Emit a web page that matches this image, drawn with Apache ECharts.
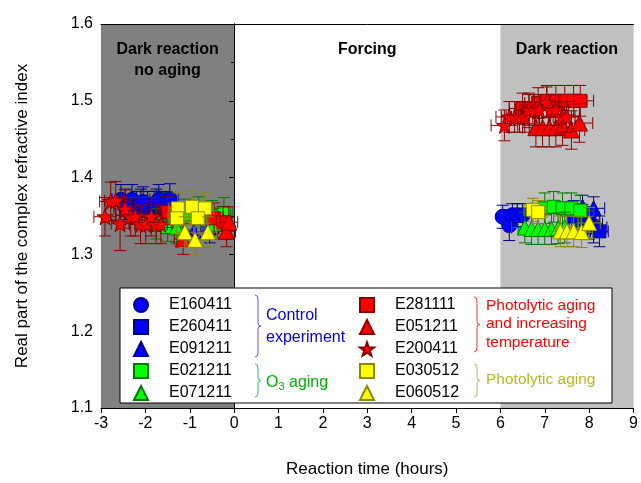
<!DOCTYPE html>
<html>
<head>
<meta charset="utf-8">
<script src="https://cdn.jsdelivr.net/npm/echarts@6/dist/echarts.min.js"></script>
<style>
html, body { margin: 0; padding: 0; background: #fff; }
#chart_main { width: 641px; height: 483px; }
</style>
</head>
<body>
<div id="chart_main"></div>
<script>
// each point: [time (h), refractive index, x error, y error]
var e160411 = [[-2.55, 1.371, 0.2, 0.02], [-2.3, 1.371, 0.2, 0.02], [-2.2, 1.362, 0.2, 0.02], [-2.05, 1.368, 0.2, 0.02],
    [-1.95, 1.362, 0.2, 0.02], [-1.8, 1.362, 0.2, 0.02], [-1.7, 1.371, 0.2, 0.02], [-1.6, 1.362, 0.2, 0.02], [-1.45, 1.372, 0.2, 0.02],
    [6.05, 1.349, 0.1, 0.015], [6.2, 1.338, 0.1, 0.02], [6.27, 1.351, 0.1, 0.015], [6.38, 1.351, 0.1, 0.015], [6.5, 1.351, 0.1, 0.015]];
var e260411 = [[-2.45, 1.365, 0.25, 0.02], [-2.1, 1.365, 0.25, 0.02], [-1.75, 1.365, 0.25, 0.02], [-1.55, 1.36, 0.25, 0.02],
    [7.65, 1.35, 0.3, 0.02], [7.85, 1.345, 0.3, 0.02], [8.0, 1.34, 0.3, 0.02], [8.1, 1.335, 0.3, 0.02], [8.23, 1.33, 0.2, 0.02]];
var e091211 = [[-0.9, 1.33, 0.2, 0.02], [-0.55, 1.335, 0.2, 0.02], [7.85, 1.362, 0.25, 0.015], [8.1, 1.36, 0.25, 0.015]];
var e021211 = [[-1.1, 1.352, 0.25, 0.02], [-0.8, 1.355, 0.25, 0.02], [-0.5, 1.35, 0.25, 0.02], [-0.23, 1.354, 0.2, 0.02],
    [7.0, 1.36, 0.3, 0.02], [7.2, 1.362, 0.3, 0.02], [7.4, 1.36, 0.3, 0.02], [7.6, 1.36, 0.3, 0.02], [7.8, 1.357, 0.3, 0.02]];
var e071211 = [[-1.75, 1.34, 0.2, 0.02], [-1.5, 1.337, 0.2, 0.02], [-1.3, 1.335, 0.2, 0.02], [-0.45, 1.34, 0.2, 0.02],
    [6.55, 1.335, 0.3, 0.02], [6.7, 1.333, 0.3, 0.02], [6.85, 1.333, 0.3, 0.02], [7.0, 1.333, 0.3, 0.02],
    [7.15, 1.333, 0.3, 0.02], [7.3, 1.334, 0.3, 0.02], [7.45, 1.335, 0.3, 0.02]];
var e281111 = [[-1.5, 1.355, 0.2, 0.02], [-0.45, 1.347, 0.2, 0.02], [-0.25, 1.342, 0.2, 0.02],
    [6.5, 1.49, 0.3, 0.02], [6.65, 1.49, 0.3, 0.02], [6.85, 1.497, 0.3, 0.02], [7.05, 1.5, 0.3, 0.02],
    [7.25, 1.5, 0.3, 0.02], [7.45, 1.5, 0.3, 0.02], [7.65, 1.5, 0.3, 0.02], [7.8, 1.5, 0.3, 0.02]];
var e051211 = [[-1.15, 1.32, 0.2, 0.02], [-0.17, 1.33, 0.2, 0.02], [-0.12, 1.342, 0.2, 0.02],
    [6.8, 1.465, 0.3, 0.025], [6.95, 1.465, 0.3, 0.025], [7.1, 1.465, 0.3, 0.025], [7.25, 1.465, 0.3, 0.025],
    [7.4, 1.467, 0.3, 0.025], [7.6, 1.462, 0.3, 0.025], [7.78, 1.471, 0.3, 0.025]];
var e200411 = [[-2.91, 1.349, 0.25, 0.025], [-2.78, 1.369, 0.25, 0.025], [-2.67, 1.37, 0.25, 0.025], [-2.57, 1.34, 0.2, 0.035],
    [-2.46, 1.359, 0.25, 0.025], [-2.33, 1.349, 0.25, 0.025], [-2.23, 1.349, 0.25, 0.025], [-2.11, 1.339, 0.25, 0.025],
    [-1.99, 1.339, 0.25, 0.025], [-1.87, 1.349, 0.25, 0.025], [-1.76, 1.339, 0.25, 0.025], [-1.65, 1.339, 0.25, 0.025],
    [6.09, 1.468, 0.3, 0.02], [6.2, 1.479, 0.3, 0.02], [6.32, 1.479, 0.3, 0.02], [6.43, 1.479, 0.3, 0.02],
    [6.55, 1.479, 0.3, 0.02], [6.64, 1.488, 0.3, 0.02], [6.77, 1.488, 0.3, 0.02], [6.88, 1.488, 0.3, 0.02],
    [7.04, 1.498, 0.3, 0.02], [7.13, 1.488, 0.3, 0.02], [7.24, 1.488, 0.3, 0.02], [7.38, 1.479, 0.3, 0.02], [7.49, 1.479, 0.3, 0.02]];
var e030512 = [[-1.27, 1.36, 0.2, 0.02], [-0.95, 1.362, 0.2, 0.02], [-0.66, 1.36, 0.2, 0.02], [-1.29, 1.347, 0.2, 0.02],
    [-0.82, 1.347, 0.2, 0.02], [6.73, 1.358, 0.2, 0.015], [6.85, 1.355, 0.2, 0.015]];
var e060512 = [[-1.11, 1.329, 0.2, 0.02], [-0.88, 1.319, 0.2, 0.02], [-0.59, 1.329, 0.2, 0.02],
    [7.35, 1.33, 0.25, 0.02], [7.5, 1.33, 0.25, 0.02], [7.65, 1.33, 0.25, 0.02], [7.83, 1.329, 0.25, 0.02], [8.0, 1.341, 0.25, 0.02]];

var xTicks = [-3, 9, 1];
var yTicks = [1.1, 1.6, 0.1];
var phaseNames = ['Dark reaction\nno aging', 'Forcing', 'Dark reaction'];
var phaseBounds = [[-3, 0], [0, 6], [6, 9]];

var starPath = 'path://M50 0 L61.8 33.8 L97.6 34.5 L69 56.2 L79.4 90.5 L50 70 L20.6 90.5 L31 56.2 L2.4 34.5 L38.2 33.8 Z';
var font = 'Arial, "Liberation Sans", sans-serif';

var BLUE = ['#0000ff', '#00008b'];
var GREEN = ['#00ff00', '#007a00'];
var RED = ['#ff0000', '#8b0000'];
var YELLOW = ['#ffff00', '#8b8b00'];

var sets = [
    { name: 'E160411', data: e160411, symbol: 'circle', size: 15, col: BLUE },
    { name: 'E260411', data: e260411, symbol: 'rect', size: 13, col: BLUE },
    { name: 'E091211', data: e091211, symbol: 'triangle', size: 15, col: BLUE },
    { name: 'E021211', data: e021211, symbol: 'rect', size: 13, col: GREEN },
    { name: 'E071211', data: e071211, symbol: 'triangle', size: 15, col: GREEN },
    { name: 'E281111', data: e281111, symbol: 'rect', size: 13, col: RED },
    { name: 'E051211', data: e051211, symbol: 'triangle', size: 16, col: RED },
    { name: 'E200411', data: e200411, symbol: starPath, size: 16, col: RED },
    { name: 'E030512', data: e030512, symbol: 'rect', size: 13, col: YELLOW },
    { name: 'E060512', data: e060512, symbol: 'triangle', size: 15, col: YELLOW }
];

var myChart = echarts.init(document.getElementById('chart_main'));

function errorBars(color) {
    return function (params, api) {
        var x = api.value(0), y = api.value(1), dx = api.value(2), dy = api.value(3);
        var c = api.coord([x, y]);
        var l = api.coord([x - dx, y])[0];
        var r = api.coord([x + dx, y])[0];
        var t = api.coord([x, y + dy])[1];
        var b = api.coord([x, y - dy])[1];
        var cap = 6;
        var st = { stroke: color, lineWidth: 1 };
        return {
            type: 'group',
            children: [
                { type: 'line', shape: { x1: l, y1: c[1], x2: r, y2: c[1] }, style: st },
                { type: 'line', shape: { x1: l, y1: c[1] - cap, x2: l, y2: c[1] + cap }, style: st },
                { type: 'line', shape: { x1: r, y1: c[1] - cap, x2: r, y2: c[1] + cap }, style: st },
                { type: 'line', shape: { x1: c[0], y1: t, x2: c[0], y2: b }, style: st },
                { type: 'line', shape: { x1: c[0] - cap, y1: t, x2: c[0] + cap, y2: t }, style: st },
                { type: 'line', shape: { x1: c[0] - cap, y1: b, x2: c[0] + cap, y2: b }, style: st }
            ]
        };
    };
}

var series = [{
    name: 'phases',
    type: 'scatter',
    data: [],
    z: 1,
    silent: true,
    markArea: {
        silent: true,
        label: {
            show: true, position: 'insideTop', distance: 15,
            fontFamily: font, fontSize: 16, fontWeight: 'bold', color: '#000', lineHeight: 21
        },
        data: [
            [{ name: phaseNames[0], xAxis: phaseBounds[0][0], yAxis: yTicks[0], itemStyle: { color: '#808080' } }, { xAxis: phaseBounds[0][1], yAxis: yTicks[1] }],
            [{ name: phaseNames[1], xAxis: phaseBounds[1][0], yAxis: yTicks[0], itemStyle: { color: 'rgba(0,0,0,0)' } }, { xAxis: phaseBounds[1][1], yAxis: yTicks[1] }],
            [{ name: phaseNames[2], xAxis: phaseBounds[2][0], yAxis: yTicks[0], itemStyle: { color: '#c0c0c0' } }, { xAxis: phaseBounds[2][1], yAxis: yTicks[1] }]
        ]
    }
}];

sets.forEach(function (s, i) {
    series.push({
        name: s.name + ' err',
        type: 'custom',
        renderItem: errorBars(s.col[1]),
        data: s.data,
        z: 2 + i * 2,
        silent: true
    });
    series.push({
        name: s.name,
        type: 'scatter',
        data: s.data,
        symbol: s.symbol,
        symbolSize: s.size,
        z: 3 + i * 2,
        itemStyle: { color: s.col[0], borderColor: s.col[1], borderWidth: 1, opacity: 1 }
    });
});

// curly brace "}" built from two straight parts and four quadratic curves
function brace(x0, y0, y1, color) {
    var m = (y0 + y1) / 2;
    var st = { fill: null, stroke: color, lineWidth: 1 };
    var xs = x0 + 3;
    return {
        type: 'group', z: 60,
        children: [
            { type: 'bezierCurve', z: 60, shape: { x1: x0, y1: y0, cpx1: xs, cpy1: y0, x2: xs, y2: y0 + 4 }, style: st },
            { type: 'line', z: 60, shape: { x1: xs, y1: y0 + 4, x2: xs, y2: m - 3 }, style: st },
            { type: 'bezierCurve', z: 60, shape: { x1: xs, y1: m - 3, cpx1: xs, cpy1: m, x2: x0 + 6, y2: m }, style: st },
            { type: 'bezierCurve', z: 60, shape: { x1: x0 + 6, y1: m, cpx1: xs, cpy1: m, x2: xs, y2: m + 3 }, style: st },
            { type: 'line', z: 60, shape: { x1: xs, y1: m + 3, x2: xs, y2: y1 - 4 }, style: st },
            { type: 'bezierCurve', z: 60, shape: { x1: xs, y1: y1 - 4, cpx1: xs, cpy1: y1, x2: x0, y2: y1 }, style: st }
        ]
    };
}

function legendBlock(names, left) {
    return {
        orient: 'vertical', left: left, top: 297, z: 60, padding: 0,
        itemWidth: 14, itemHeight: 14, itemGap: 6,
        selectedMode: false,
        data: names,
        textStyle: { fontFamily: font, fontSize: 16, color: '#000', padding: [0, 0, 0, 16] }
    };
}

var option = {
    animation: false,
    grid: { left: 101, right: 7, top: 24, bottom: 75 },
    legend: [
        legendBlock(['E160411', 'E260411', 'E091211', 'E021211', 'E071211'], 133),
        legendBlock(['E281111', 'E051211', 'E200411', 'E030512', 'E060512'], 359)
    ],
    xAxis: [{
        type: 'value', min: xTicks[0], max: xTicks[1], interval: xTicks[2], z: 10,
        name: 'Reaction time (hours)', nameLocation: 'middle', nameGap: 53,
        nameTextStyle: { fontFamily: font, fontSize: 17, color: '#000' },
        axisLine: { show: true, lineStyle: { color: '#000', width: 1 } },
        axisTick: { show: true, inside: false, length: 5, lineStyle: { color: '#000' } },
        axisLabel: { fontFamily: font, fontSize: 16, color: '#000', margin: 8 },
        splitLine: { show: false }
    }, {
        type: 'value', min: xTicks[0], max: xTicks[1], position: 'top', z: 10,
        axisLine: { show: true, lineStyle: { color: '#000', width: 1 } },
        axisTick: { show: false }, axisLabel: { show: false }, splitLine: { show: false }
    }],
    yAxis: [{
        type: 'value', min: yTicks[0], max: yTicks[1], interval: yTicks[2], z: 10,
        name: 'Real part of the complex refractive index', nameLocation: 'middle', nameGap: 70,
        nameTextStyle: { fontFamily: font, fontSize: 17, color: '#000' },
        axisLine: { show: true, lineStyle: { color: '#000', width: 1 } },
        axisTick: { show: true, inside: false, length: 5, lineStyle: { color: '#000' } },
        minorTick: { show: true, splitNumber: 2, length: 3, lineStyle: { color: '#000' } },
        axisLabel: { fontFamily: font, fontSize: 16, color: '#000', margin: 8, formatter: function (v) { return v.toFixed(1); } },
        splitLine: { show: false }
    }, {
        type: 'value', min: yTicks[0], max: yTicks[1], position: 'right', z: 10,
        axisLine: { show: true, lineStyle: { color: '#000', width: 1 } },
        axisTick: { show: false }, axisLabel: { show: false }, splitLine: { show: false }
    }],
    graphic: [
        { type: 'rect', z: 50, shape: { x: 120, y: 288, width: 492, height: 115 }, style: { fill: '#fff', stroke: '#000', lineWidth: 1 } },
        brace(255, 295, 357, '#5a5aff'),
        brace(255, 364, 397, '#3cb371'),
        brace(474, 297, 352, '#ff3030'),
        brace(474, 364, 397, '#b4b460'),
        { type: 'text', z: 60, x: 266, y: 327, style: { text: 'Control\nexperiment', fill: '#0000ee', font: '16px ' + font, lineHeight: 22, verticalAlign: 'middle' } },
        {
            type: 'text', z: 60, x: 266, y: 383,
            style: {
                text: 'O{s|3} aging', fill: '#00b000', font: '16px ' + font, verticalAlign: 'middle',
                rich: { s: { fontSize: 11, fontFamily: font, fill: '#00b000', padding: [8, 0, 0, 0] } }
            }
        },
        { type: 'text', z: 60, x: 486, y: 324, style: { text: 'Photolytic aging\nand increasing\ntemperature', fill: '#ff0000', font: '15.5px ' + font, lineHeight: 18.5, verticalAlign: 'middle' } },
        { type: 'text', z: 60, x: 486, y: 380, style: { text: 'Photolytic aging', fill: '#b8b820', font: '15.5px ' + font, verticalAlign: 'middle' } }
    ],
    series: series
};

myChart.setOption(option);
</script>
</body>
</html>
